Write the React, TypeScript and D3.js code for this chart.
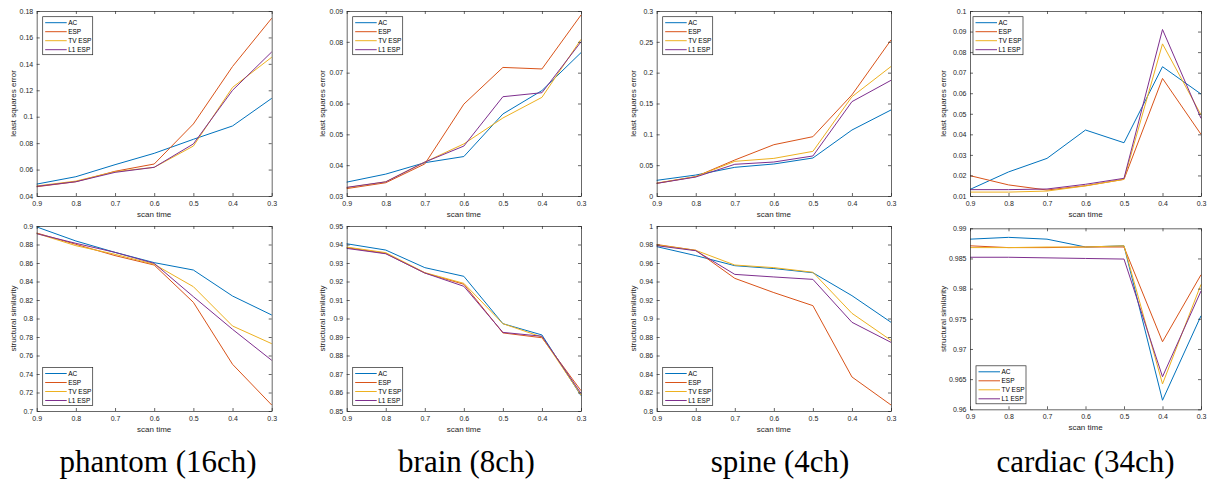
import React, { useEffect, useRef } from 'react';
import * as d3 from 'd3';

const scanTimes = [0.9, 0.8, 0.7, 0.6, 0.5, 0.4, 0.3];
const methods = ['AC', 'ESP', 'TV ESP', 'L1 ESP'];
const colors = ['#0072BD', '#D95319', '#EDB120', '#7E2F8E'];
const captions = ['phantom (16ch)', 'brain (8ch)', 'spine (4ch)', 'cardiac (34ch)'];

// least squares error — rows: AC, ESP, TV ESP, L1 ESP
const phantomLse = [
  [0.049, 0.0546, 0.0637, 0.0723, 0.0829, 0.093, 0.1139],
  [0.047, 0.0508, 0.0587, 0.0642, 0.0945, 0.138, 0.1745],
  [0.0476, 0.0513, 0.0584, 0.0617, 0.0778, 0.1222, 0.145],
  [0.0473, 0.0508, 0.0579, 0.0617, 0.0794, 0.12, 0.149],
];
const brainLse = [
  [0.0345, 0.0371, 0.0408, 0.0428, 0.0566, 0.0642, 0.0765],
  [0.0324, 0.0343, 0.0404, 0.0598, 0.0717, 0.0712, 0.0887],
  [0.0327, 0.0346, 0.041, 0.0469, 0.0553, 0.062, 0.0808],
  [0.0328, 0.0346, 0.041, 0.0462, 0.0622, 0.0635, 0.08],
];
const spineLse = [
  [0.0254, 0.034, 0.0465, 0.0519, 0.0616, 0.107, 0.1395],
  [0.0205, 0.0314, 0.0584, 0.0832, 0.0962, 0.164, 0.253],
  [0.021, 0.0314, 0.0562, 0.061, 0.0724, 0.161, 0.21],
  [0.0205, 0.0308, 0.0514, 0.0551, 0.0649, 0.153, 0.1876],
];
const cardiacLse = [
  [0.0132, 0.0217, 0.0283, 0.0421, 0.0359, 0.0729, 0.0596],
  [0.0199, 0.0154, 0.0129, 0.015, 0.0181, 0.0672, 0.04],
  [0.0119, 0.0119, 0.0124, 0.0149, 0.0181, 0.084, 0.0495],
  [0.0131, 0.0131, 0.0134, 0.0157, 0.0186, 0.091, 0.0478],
];

// structural similarity
const phantomSsim = [
  [0.899, 0.8838, 0.8715, 0.8604, 0.8524, 0.8243, 0.8038],
  [0.8924, 0.8802, 0.868, 0.8578, 0.8175, 0.7505, 0.7065],
  [0.892, 0.8787, 0.8694, 0.8586, 0.8344, 0.7919, 0.7728],
  [0.8917, 0.8813, 0.8715, 0.8596, 0.8236, 0.7883, 0.7548],
];
const brainSsim = [
  [0.9404, 0.937, 0.9275, 0.9228, 0.8972, 0.8911, 0.8583],
  [0.9383, 0.9352, 0.9246, 0.9185, 0.8922, 0.8896, 0.861],
  [0.9386, 0.9356, 0.9248, 0.919, 0.8972, 0.89, 0.8586],
  [0.9379, 0.935, 0.9246, 0.9174, 0.8925, 0.8904, 0.8595],
];
const spineSsim = [
  [0.9777, 0.968, 0.9571, 0.954, 0.9495, 0.9247, 0.8959],
  [0.98, 0.9737, 0.9434, 0.928, 0.9139, 0.8368, 0.8065],
  [0.9795, 0.9737, 0.9578, 0.955, 0.95, 0.9056, 0.8764],
  [0.9787, 0.9733, 0.9477, 0.9449, 0.9423, 0.8959, 0.8742],
];
const cardiacSsim = [
  [0.9882, 0.9885, 0.9882, 0.9869, 0.9871, 0.9615, 0.9755],
  [0.9871, 0.9868, 0.9868, 0.9869, 0.9869, 0.9712, 0.9823],
  [0.9868, 0.9868, 0.9869, 0.9869, 0.9871, 0.9642, 0.9807],
  [0.9852, 0.9852, 0.9851, 0.985, 0.9849, 0.9654, 0.9796],
];

const lseDomains = [[0.04, 0.18], [0.03, 0.09], [0, 0.3], [0.01, 0.1]];
const lseTicks = [7, 6, 6, 9];
const ssimDomains = [[0.7, 0.9], [0.85, 0.95], [0.8, 1], [0.96, 0.99]];
const ssimTicks = [10, 10, 10, 6];

const lseData = [phantomLse, brainLse, spineLse, cardiacLse];
const ssimData = [phantomSsim, brainSsim, spineSsim, cardiacSsim];

// layout
const lefts = [36.7, 346.7, 656.7, 970];
const widths = [235, 234.3, 234.3, 231];
const labelOffsets = [24, 25, 24, 27];
const captionX = [158, 466.5, 780, 1085.5];

const tickFmt = (v: number) => String(+v.toFixed(4));

const App = () => {
  const ref = useRef<SVGSVGElement>(null);

  useEffect(() => {
    const svg = d3.select(ref.current);
    svg.selectAll('*').remove();

    const drawPanel = (
      left: number, top: number, w: number, h: number,
      series: number[][], domain: number[], nTicks: number,
      yLabel: string, labelOffset: number,
      legendX: number, legendY: number,
    ) => {
      const x = d3.scaleLinear().domain([0.9, 0.3]).range([left, left + w]);
      const y = d3.scaleLinear().domain(domain).range([top + h, top]);
      const g = svg.append('g');

      g.append('rect')
        .attr('x', left).attr('y', top).attr('width', w).attr('height', h)
        .attr('fill', 'white');

      const line = d3.line<number>()
        .x((_, i) => x(scanTimes[i]))
        .y(d => y(d));

      series.forEach((s, k) => {
        g.append('path')
          .datum(s)
          .attr('d', line)
          .attr('fill', 'none')
          .attr('stroke', colors[k])
          .attr('stroke-width', 1);
      });

      const style = (a: any) => {
        a.selectAll('path').attr('stroke', '#262626').attr('stroke-width', 0.7);
        a.selectAll('line').attr('stroke', '#262626').attr('stroke-width', 0.7);
        a.selectAll('text')
          .attr('fill', '#262626')
          .attr('font-family', 'Liberation Sans, Arial, sans-serif')
          .attr('font-size', 7);
      };

      g.append('g')
        .attr('transform', `translate(0,${top + h})`)
        .call(d3.axisBottom(x).tickValues(scanTimes).tickFormat(d => tickFmt(+d)).tickSize(-3).tickSizeOuter(0).tickPadding(5))
        .call(style);
      g.append('g')
        .attr('transform', `translate(0,${top})`)
        .call(d3.axisTop(x).tickValues(scanTimes).tickFormat(() => '').tickSize(-3).tickSizeOuter(0))
        .call(style);
      g.append('g')
        .attr('transform', `translate(${left},0)`)
        .call(d3.axisLeft(y).ticks(nTicks).tickFormat(d => tickFmt(+d)).tickSize(-3).tickSizeOuter(0).tickPadding(3.5))
        .call(style);
      g.append('g')
        .attr('transform', `translate(${left + w},0)`)
        .call(d3.axisRight(y).ticks(nTicks).tickFormat(() => '').tickSize(-3).tickSizeOuter(0))
        .call(style);

      g.append('text')
        .attr('x', left + w / 2)
        .attr('y', top + h + 20.5)
        .attr('text-anchor', 'middle')
        .attr('font-family', 'Liberation Sans, Arial, sans-serif')
        .attr('font-size', 8)
        .attr('fill', '#262626')
        .text('scan time');

      g.append('text')
        .attr('transform', `translate(${left - labelOffset},${top + h / 2}) rotate(-90)`)
        .attr('dy', '0.35em')
        .attr('text-anchor', 'middle')
        .attr('font-family', 'Liberation Sans, Arial, sans-serif')
        .attr('font-size', 8)
        .attr('fill', '#262626')
        .text(yLabel);

      // legend
      const lg = g.append('g').attr('transform', `translate(${legendX},${legendY})`);
      lg.append('rect')
        .attr('width', 50).attr('height', 38)
        .attr('fill', 'white').attr('stroke', '#262626').attr('stroke-width', 0.7);
      methods.forEach((m, k) => {
        const ry = 6 + k * 9;
        lg.append('line')
          .attr('x1', 2.5).attr('x2', 24).attr('y1', ry).attr('y2', ry)
          .attr('stroke', colors[k]).attr('stroke-width', 1);
        lg.append('text')
          .attr('x', 25.5).attr('y', ry).attr('dy', '0.35em')
          .attr('font-family', 'Liberation Sans, Arial, sans-serif')
          .attr('font-size', 6.5)
          .attr('fill', '#000')
          .text(m);
      });
    };

    const legendOffsets = [6, 6, 6, 3];
    for (let i = 0; i < 4; i++) {
      drawPanel(lefts[i], 11, widths[i], 185, lseData[i], lseDomains[i], lseTicks[i],
        'least squares error', labelOffsets[i], lefts[i] + legendOffsets[i], 16.7);
      const bTop = i === 3 ? 228.3 : 226;
      const bH = i === 3 ? 181 : 185;
      drawPanel(lefts[i], bTop, widths[i], bH, ssimData[i], ssimDomains[i], ssimTicks[i],
        'structural similarity', labelOffsets[i], lefts[i] + 6, bTop + bH - 43.5);
    }

    captions.forEach((c, i) => {
      svg.append('text')
        .attr('x', captionX[i]).attr('y', 472)
        .attr('text-anchor', 'middle')
        .attr('font-family', 'Liberation Serif, Times New Roman, serif')
        .attr('font-size', 31)
        .attr('fill', '#000')
        .text(c);
    });
  }, []);

  return (
    <div style={{ position: 'absolute', left: 0, top: 0 }}>
      <svg ref={ref} width={1210} height={481} style={{ display: 'block', background: 'white' }} />
    </div>
  );
};

export default App;
